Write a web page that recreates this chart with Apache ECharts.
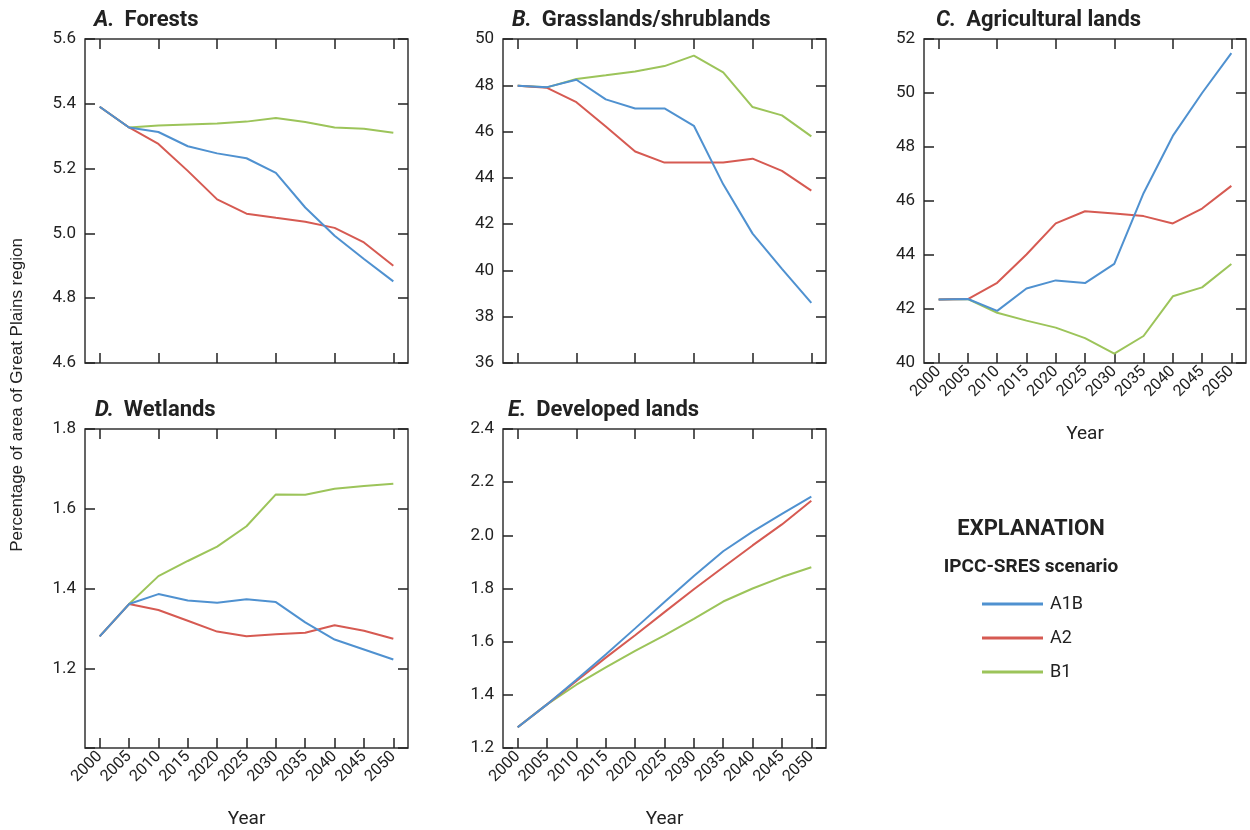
<!DOCTYPE html>
<html>
<head>
<meta charset="utf-8">
<script src="https://cdn.jsdelivr.net/npm/echarts@6/dist/echarts.min.js"></script>
<style>html,body{margin:0;padding:0;background:#fff}#c{width:1250px;height:830px}</style>
</head>
<body>
<div id="c"></div>
<script>
const years = ['2000','2005','2010','2015','2020','2025','2030','2035','2040','2045','2050'];
const scenarios = ['A1B','A2','B1'];

const forestsA1B = [5.391,5.327,5.313,5.269,5.247,5.232,5.187,5.080,4.993,4.921,4.852];
const forestsA2  = [5.391,5.327,5.276,5.193,5.105,5.061,5.048,5.036,5.017,4.972,4.900];
const forestsB1  = [5.391,5.327,5.333,5.336,5.339,5.345,5.356,5.344,5.327,5.323,5.311];

const grassA1B = [47.98,47.92,48.24,47.39,47.00,47.00,46.25,43.72,41.59,40.07,38.60];
const grassA2  = [47.98,47.89,47.27,46.22,45.14,44.66,44.66,44.66,44.83,44.30,43.45];
const grassB1  = [47.98,47.91,48.27,48.43,48.60,48.83,49.28,48.56,47.06,46.70,45.79];

const agriA1B = [42.35,42.37,41.93,42.76,43.06,42.96,43.67,46.29,48.41,50.00,51.48];
const agriA2  = [42.35,42.37,42.97,44.02,45.17,45.62,45.54,45.44,45.17,45.72,46.56];
const agriB1  = [42.35,42.37,41.86,41.57,41.31,40.92,40.35,41.00,42.47,42.80,43.67];

const wetA1B = [1.280,1.361,1.386,1.370,1.364,1.373,1.366,1.315,1.272,1.247,1.222];
const wetA2  = [1.280,1.361,1.346,1.319,1.292,1.280,1.285,1.289,1.308,1.294,1.274];
const wetB1  = [1.280,1.361,1.431,1.469,1.505,1.556,1.636,1.635,1.650,1.657,1.663];

const devA1B = [1.278,1.364,1.457,1.552,1.650,1.749,1.847,1.940,2.014,2.081,2.146];
const devA2  = [1.278,1.364,1.452,1.540,1.624,1.711,1.797,1.880,1.962,2.041,2.130];
const devB1  = [1.278,1.364,1.438,1.503,1.565,1.624,1.686,1.751,1.800,1.843,1.880];

const panelLetters = ['A.','B.','C.','D.','E.'];
const panelNames = ['Forests','Grasslands/shrublands','Agricultural lands','Wetlands','Developed lands'];
const yMins = [4.6,36,40,1.0,1.2];
const yMaxs = [5.6,50,52,1.8,2.4];
const yIntervals = [0.2,2,2,0.2,0.2];
const yDecimals = [1,0,0,1,1];
const yHiddenLabels = [[],[],[],[1.0],[]];
const showYear = [false,false,true,true,true];

const panelData = [
  [forestsA1B, forestsA2, forestsB1],
  [grassA1B, grassA2, grassB1],
  [agriA1B, agriA2, agriB1],
  [wetA1B, wetA2, wetB1],
  [devA1B, devA2, devB1]
];

const colors = ['#4f91d0','#d65a52','#9cc45a'];
const FONT = "'Liberation Sans Narrow','Arial Narrow','Roboto',sans-serif";
const boxes = [
  {left:85, top:39, width:323, height:324},
  {left:503, top:39, width:323, height:324},
  {left:924, top:39, width:322, height:324},
  {left:85, top:429, width:323, height:324},
  {left:503, top:429, width:323, height:324}
];
const titlePos = [
  {left:89, top:4},{left:507, top:4},{left:931, top:4},{left:90, top:394},{left:503, top:394}
];

const grid = [], xAxis = [], yAxis = [], series = [], title = [];
boxes.forEach((b, i) => {
  grid.push(Object.assign({show:true, borderColor:'#333', borderWidth:1.5, backgroundColor:'transparent'}, b));
  const tickStyle = {show:true, inside:true, length:10, lineStyle:{color:'#222', width:1.5}};
  xAxis.push({
    type:'category', gridIndex:i, data:years, boundaryGap:true, position:'bottom',
    axisLine:{show:false}, axisTick:Object.assign({alignWithLabel:true}, tickStyle),
    axisLabel: showYear[i] ? {show:true, rotate:45, fontSize:16, color:'#222', fontFamily:FONT, margin:6, interval:0} : {show:false},
    name: showYear[i] ? 'Year' : '', nameLocation:'middle', nameGap:62,
    nameTextStyle:{fontSize:19, color:'#222', fontFamily:FONT},
    splitLine:{show:false}
  });
  xAxis.push({
    type:'category', gridIndex:i, data:years, boundaryGap:true, position:'top',
    axisLine:{show:false}, axisTick:Object.assign({alignWithLabel:true}, tickStyle),
    axisLabel:{show:false}, splitLine:{show:false}
  });
  const dec = yDecimals[i], hid = yHiddenLabels[i];
  yAxis.push({
    type:'value', gridIndex:i, min:yMins[i], max:yMaxs[i], interval:yIntervals[i], position:'left',
    axisLine:{show:false}, axisTick:tickStyle, splitLine:{show:false},
    axisLabel:{fontSize:17, color:'#222', fontFamily:FONT, margin:9,
      formatter:(v)=> hid.some(h=>Math.abs(h-v)<1e-6) ? '' : v.toFixed(dec)}
  });
  yAxis.push({
    type:'value', gridIndex:i, min:yMins[i], max:yMaxs[i], interval:yIntervals[i], position:'right',
    axisLine:{show:false}, axisTick:tickStyle, splitLine:{show:false}, axisLabel:{show:false}
  });
  panelData[i].forEach((d, k) => {
    series.push({
      type:'line', name:scenarios[k], xAxisIndex:i*2, yAxisIndex:i*2, data:d,
      showSymbol:false, symbol:'none', lineStyle:{width:2, color:colors[k]}, itemStyle:{color:colors[k]},
      z: 3 - k, animation:false
    });
  });
  title.push({
    text:'{l|' + panelLetters[i] + '}  {n|' + panelNames[i] + '}',
    left:titlePos[i].left, top:titlePos[i].top,
    textStyle:{rich:{
      l:{fontSize:22, fontWeight:'bold', fontStyle:'italic', color:'#222', fontFamily:FONT},
      n:{fontSize:22, fontWeight:'bold', color:'#222', fontFamily:FONT}
    }}
  });
});

const chart = echarts.init(document.getElementById('c'), null, {renderer:'canvas'});
chart.setOption({
  animation:false,
  backgroundColor:'#fff',
  title:title,
  grid:grid, xAxis:xAxis, yAxis:yAxis, series:series,
  legend:{
    data:scenarios, orient:'vertical', left:977, top:590, itemGap:16,
    itemWidth:61, itemHeight:3, icon:'rect', selectedMode:false,
    textStyle:{fontSize:18, color:'#222', fontFamily:"'Roboto','Liberation Sans',sans-serif", padding:[0,0,0,2]}
  },
  graphic:[
    {type:'text', x:17, y:395, rotation:Math.PI/2, style:{text:'Percentage of area of Great Plains region', fontSize:17, fill:'#222', fontFamily:"'Liberation Sans','Roboto',sans-serif", textAlign:'center', textVerticalAlign:'middle'}},
    {type:'text', style:{text:'EXPLANATION', x:1031, y:529, fontSize:22, fontWeight:'bold', fill:'#222', fontFamily:FONT, textAlign:'center', textVerticalAlign:'middle'}},
    {type:'text', style:{text:'IPCC-SRES scenario', x:1031, y:567, fontSize:19, fontWeight:'bold', fill:'#222', fontFamily:FONT, textAlign:'center', textVerticalAlign:'middle'}}
  ]
});
</script>
</body>
</html>
